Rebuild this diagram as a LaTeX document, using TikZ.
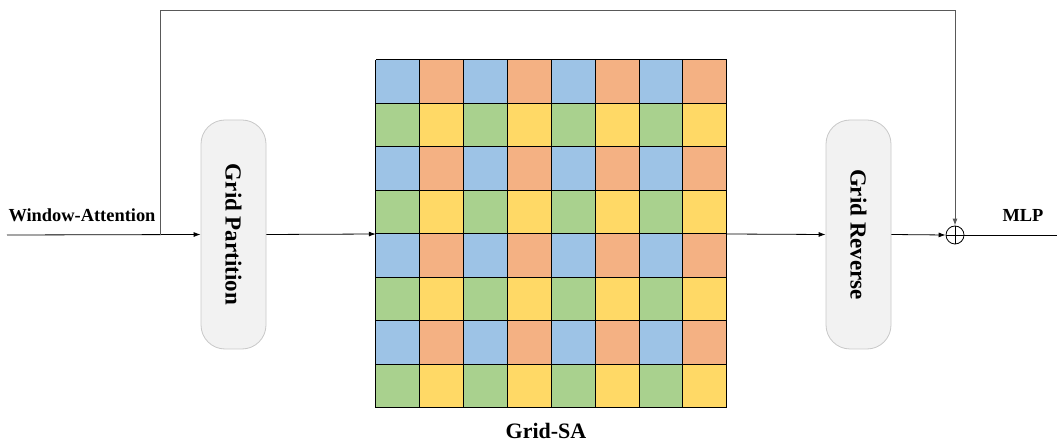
\documentclass[tikz,border=0pt]{standalone}
\usepackage{fontspec}
\setmainfont{Liberation Serif}
\usetikzlibrary{arrows.meta,calc}
\definecolor{cblue}{HTML}{9DC3E6}
\definecolor{corange}{HTML}{F4B183}
\definecolor{cgreen}{HTML}{A9D18E}
\definecolor{cyellow}{HTML}{FFD966}
\definecolor{boxfill}{HTML}{F2F2F2}
\definecolor{boxline}{HTML}{C8C8C8}
\definecolor{skipc}{HTML}{595959}
\tikzset{
  opbox/.style={draw=boxline, fill=boxfill, rounded corners=24pt, minimum width=65pt, minimum height=229pt, inner sep=0pt, line width=0.8pt},
  optext/.style={rotate=-90, font=\fontsize{23}{26}\selectfont\bfseries},
  lbl/.style={font=\fontsize{18.4}{22}\selectfont\bfseries, inner sep=0pt},
  conn/.style={draw=black, line width=0.8pt, -{Latex[length=7pt,width=5pt]}},
  cell/.style={draw=black, line width=0.9pt},
}
\begin{document}
\begin{tikzpicture}[x=1pt,y=-1pt]
\useasboundingbox (0,0) rectangle (1057,443);
% nodes
\coordinate (start) at (7,235);
\coordinate (split) at (160,235);
\coordinate (endp) at (1057,235);
\node[opbox] (gp) at (233.5,234.5) {};
\node[optext] at (gp.center) {Grid Partition};
\node[opbox] (gr) at (858.5,234.5) {};
\node[optext] at (gr.center) {Grid Reverse};
\node[draw=black, line width=0.8pt, circle, minimum size=18pt, inner sep=0pt] (plus) at (955,235) {};
\draw[line width=0.8pt] (plus.north) -- (plus.south) (plus.west) -- (plus.east);
\node[minimum width=351pt, minimum height=348pt, inner sep=0pt] (grid) at (551.5,234) {};
% grid cells
\foreach \r in {0,...,7}{
  \foreach \c in {0,...,7}{
    \pgfmathtruncatemacro{\rp}{mod(\r,2)}
    \pgfmathtruncatemacro{\cp}{mod(\c,2)}
    \ifnum\rp=0
      \ifnum\cp=0 \def\cc{cblue}\else\def\cc{corange}\fi
    \else
      \ifnum\cp=0 \def\cc{cgreen}\else\def\cc{cyellow}\fi
    \fi
    \fill[\cc] ($(grid.north west)+(\c*43.875,\r*43.5)$) rectangle ++(43.875,43.5);
  }
}
\foreach \i in {0,...,8}{
  \draw[cell] ($(grid.north west)+(\i*43.875,0)$) -- ++(0,348);
  \draw[cell] ($(grid.north west)+(0,\i*43.5)$) -- ++(351,0);
}
% labels
\node[lbl] (wa) at (82,215) {Window-Attention};
\node[lbl] (mlp) at (1023,215) {MLP};
\node[lbl, font=\fontsize{22}{26}\selectfont\bfseries] (gsa) at (546,431) {Grid-SA};
% connectors
\draw[conn] (start) -- (gp.west);
\draw[conn] (gp.east) -- (grid.west);
\draw[conn] (grid.east) -- (gr.west);
\draw[conn] (gr.east) -- (plus.west);
\draw[line width=0.8pt] (plus.east) -- (endp);
\draw[draw=skipc, line width=1pt, -{Latex[length=7pt,width=5pt]}] (split) -- (160,11) -- (955,11) -- (plus.north);
\end{tikzpicture}
\end{document}
